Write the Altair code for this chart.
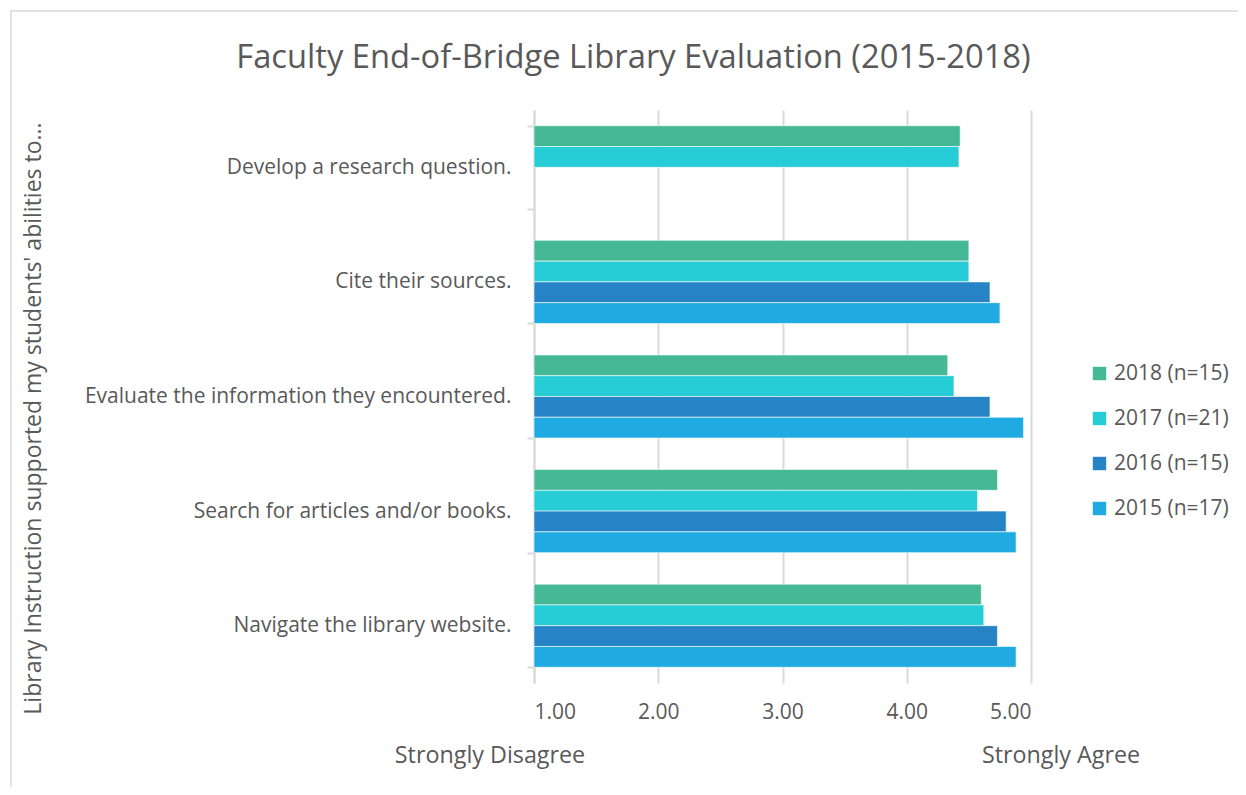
import altair as alt
import pandas as pd

categories = [
    "Develop a research question.",
    "Cite their sources.",
    "Evaluate the information they encountered.",
    "Search for articles and/or books.",
    "Navigate the library website.",
]
series = ["2018 (n=15)", "2017 (n=21)", "2016 (n=15)", "2015 (n=17)"]
colors = ["#44B994", "#26CCD6", "#2683C6", "#1FAAE1"]

v2018 = [4.43, 4.50, 4.33, 4.73, 4.60]
v2017 = [4.42, 4.50, 4.38, 4.57, 4.62]
v2016 = [None, 4.67, 4.67, 4.80, 4.73]
v2015 = [None, 4.75, 4.94, 4.88, 4.88]

rows = []
for s, vals in zip(series, [v2018, v2017, v2016, v2015]):
    for c, v in zip(categories, vals):
        if v is not None:
            rows.append({"category": c, "series": s, "value": v})
df = pd.DataFrame(rows)

FONT = "Open Sans"
TXT = "#595959"
W, H = 497, 573

bars = alt.Chart(df).mark_bar(stroke="white", strokeWidth=0.6).encode(
    y=alt.Y(
        "category:N",
        sort=categories,
        scale=alt.Scale(paddingInner=0.275, paddingOuter=0.1375),
        axis=alt.Axis(
            title="Library Instruction supported my students' abilities to...",
            titleFont=FONT, titleFontSize=23, titleFontWeight="normal", titleColor=TXT,
            titleAngle=270, titleX=-501, titleY=308, titleAlign="center", titleBaseline="middle",
            labelFont=FONT, labelFontSize=21, labelColor=TXT, labelLimit=500,
            labelPadding=16, tickSize=7, tickColor="#d9d9d9", tickWidth=2,
            tickBand="extent", domainColor="#d9d9d9", domainWidth=2, grid=False,
        ),
    ),
    yOffset=alt.YOffset("series:N", scale=alt.Scale(domain=series, paddingInner=0, paddingOuter=0)),
    x=alt.X(
        "value:Q",
        scale=alt.Scale(domain=[1, 5], zero=False, nice=False),
        axis=alt.Axis(
            title=None, values=[1, 2, 3, 4, 5], format=".2f",
            labelFont=FONT, labelFontSize=21, labelColor=TXT, labelPadding=18,
            ticks=False, domain=False, grid=True, gridColor="#d9d9d9", gridWidth=2,
        ),
    ),
    x2=alt.datum(1),
    color=alt.Color(
        "series:N",
        scale=alt.Scale(domain=series, range=colors),
        legend=alt.Legend(
            title=None, orient="none", legendX=555, legendY=253,
            symbolType="square", symbolSize=180, symbolStrokeWidth=0, symbolOpacity=1,
            labelFont=FONT, labelFontSize=21, labelColor=TXT, labelOffset=4,
            rowPadding=23,
        ),
    ),
)

ann = pd.DataFrame({"label": ["Strongly Disagree", "Strongly Agree"], "px": [-44, 527]})
notes = alt.Chart(ann).mark_text(font=FONT, fontSize=23.3, color=TXT, baseline="middle", align="center").encode(
    text="label:N",
    x=alt.X("px:Q", scale=None),
    y=alt.value(646),
)

frame = alt.Chart(pd.DataFrame({"a": [0]})).mark_rect(fill=None, stroke="#d9d9d9", strokeWidth=1.5).encode(
    x=alt.value(-523), x2=alt.value(800), y=alt.value(-99), y2=alt.value(760),
)

chart = alt.layer(frame, bars, notes).properties(
    width=W, height=H,
    title=alt.TitleParams(
        "Faculty End-of-Bridge Library Evaluation (2015-2018)",
        font=FONT, fontSize=32.7, fontWeight="normal", color=TXT,
        anchor="middle", frame="group", dx=-149, offset=0, dy=64,
    ),
    autosize=alt.AutoSizeParams(type="none"),
    padding={"left": 526, "top": 102, "right": 207, "bottom": 104},
).configure_view(stroke=None)

chart.save("out.html", embed_options={"renderer": "svg", "actions": False})
